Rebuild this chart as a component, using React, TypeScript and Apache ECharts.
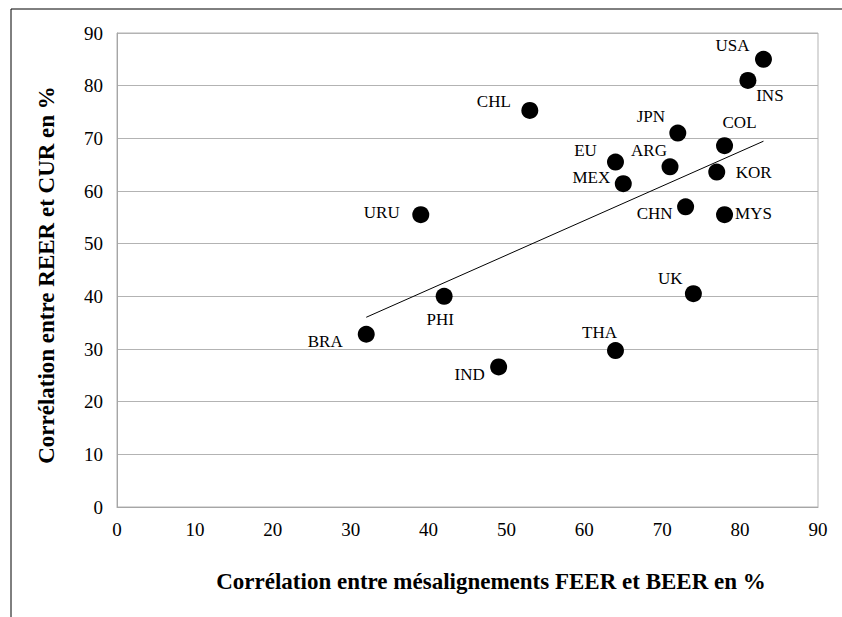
import React, { useEffect, useRef } from "react";
import * as echarts from "echarts";

const countries = ["USA", "INS", "JPN", "COL", "EU", "ARG", "KOR", "MEX", "CHN", "MYS", "URU", "UK", "PHI", "BRA", "THA", "IND", "CHL"];
const feerBeer = [83, 81, 72, 78, 64, 71, 77, 65, 73, 78, 39, 74, 42, 32, 64, 49, 53];
const reerCur = [85, 81, 71, 68.6, 65.5, 64.6, 63.6, 61.4, 57, 55.5, 55.5, 40.5, 40, 32.8, 29.7, 26.6, 75.3];
const labelOffsets: [number, number][] = [
  [-31, -14], [22, 15], [-27, -17], [15, -23], [-30, -12], [-21, -16], [37, 0], [-32, -6],
  [-31, 7], [29, -1], [-39, -2], [-23, -15], [-4, 23], [-41, 7], [-16, -18], [-29, 8], [-36, -9],
];
const axisTicks = [0, 10, 20, 30, 40, 50, 60, 70, 80, 90];
const xTitle = "Corrélation entre mésalignements FEER et BEER en %";
const yTitle = "Corrélation entre REER et CUR en %";

function regression(xs: number[], ys: number[]) {
  const n = xs.length;
  const mx = xs.reduce((a, b) => a + b, 0) / n;
  const my = ys.reduce((a, b) => a + b, 0) / n;
  let sxy = 0, sxx = 0;
  for (let i = 0; i < n; i++) {
    sxy += (xs[i] - mx) * (ys[i] - my);
    sxx += (xs[i] - mx) * (xs[i] - mx);
  }
  const slope = sxy / sxx;
  return { slope, intercept: my - slope * mx };
}

export default function App() {
  const ref = useRef<HTMLDivElement>(null);
  useEffect(() => {
    if (!ref.current) return;
    const chart = echarts.init(ref.current, undefined, { renderer: "svg" });
    const font = "Liberation Serif";
    const { slope, intercept } = regression(feerBeer, reerCur);
    const xmin = Math.min(...feerBeer);
    const xmax = Math.max(...feerBeer);
    const trend = [
      [xmin, intercept + slope * xmin],
      [xmax, intercept + slope * xmax],
    ];
    const points = countries.map((c, i) => ({
      name: c,
      value: [feerBeer[i], reerCur[i]],
      label: { offset: labelOffsets[i] },
    }));
    chart.setOption({
      animation: false,
      backgroundColor: "#ffffff",
      textStyle: { fontFamily: font },
      grid: { left: 117, top: 33, right: 24, bottom: 110, show: true, borderColor: "#b3b3b3", borderWidth: 1 },
      xAxis: {
        type: "value",
        min: axisTicks[0],
        max: axisTicks[axisTicks.length - 1],
        interval: 10,
        axisLine: { show: true, lineStyle: { color: "#a6a6a6" } },
        axisTick: { show: false },
        splitLine: { show: false },
        axisLabel: { color: "#000", fontFamily: font, fontSize: 19, margin: 13 },
      },
      yAxis: {
        type: "value",
        min: axisTicks[0],
        max: axisTicks[axisTicks.length - 1],
        interval: 10,
        axisLine: { show: true, lineStyle: { color: "#a6a6a6" } },
        axisTick: { show: false },
        splitLine: { show: true, lineStyle: { color: "#b3b3b3", width: 1 } },
        axisLabel: { color: "#000", fontFamily: font, fontSize: 19, margin: 14 },
      },
      series: [
        {
          type: "line",
          data: trend,
          showSymbol: false,
          symbol: "none",
          lineStyle: { color: "#000", width: 1 },
          silent: true,
          z: 2,
        },
        {
          type: "scatter",
          data: points,
          symbol: "circle",
          symbolSize: 17,
          itemStyle: { color: "#000", opacity: 1 },
          label: {
            show: true,
            position: "inside",
            formatter: "{b}",
            color: "#000",
            fontFamily: font,
            fontSize: 17,
            align: "center",
            verticalAlign: "middle",
          },
          z: 3,
        },
      ],
      graphic: [
        { type: "line", shape: { x1: 11, y1: 9, x2: 842, y2: 9 }, style: { stroke: "#000", lineWidth: 1 } },
        { type: "line", shape: { x1: 11, y1: 9, x2: 11, y2: 617 }, style: { stroke: "#000", lineWidth: 1 } },
        {
          type: "text",
          x: 491,
          y: 581,
          style: { text: xTitle, font: `bold 23px ${font}`, fill: "#000", align: "center", verticalAlign: "middle" },
        },
        {
          type: "text",
          x: 46,
          y: 275,
          rotation: Math.PI / 2,
          style: { text: yTitle, font: `bold 23px ${font}`, fill: "#000", align: "center", verticalAlign: "middle" },
        },
      ],
    });
    return () => chart.dispose();
  }, []);
  return <div ref={ref} style={{ position: "fixed", left: 0, top: 0, width: 842, height: 617 }} />;
}
